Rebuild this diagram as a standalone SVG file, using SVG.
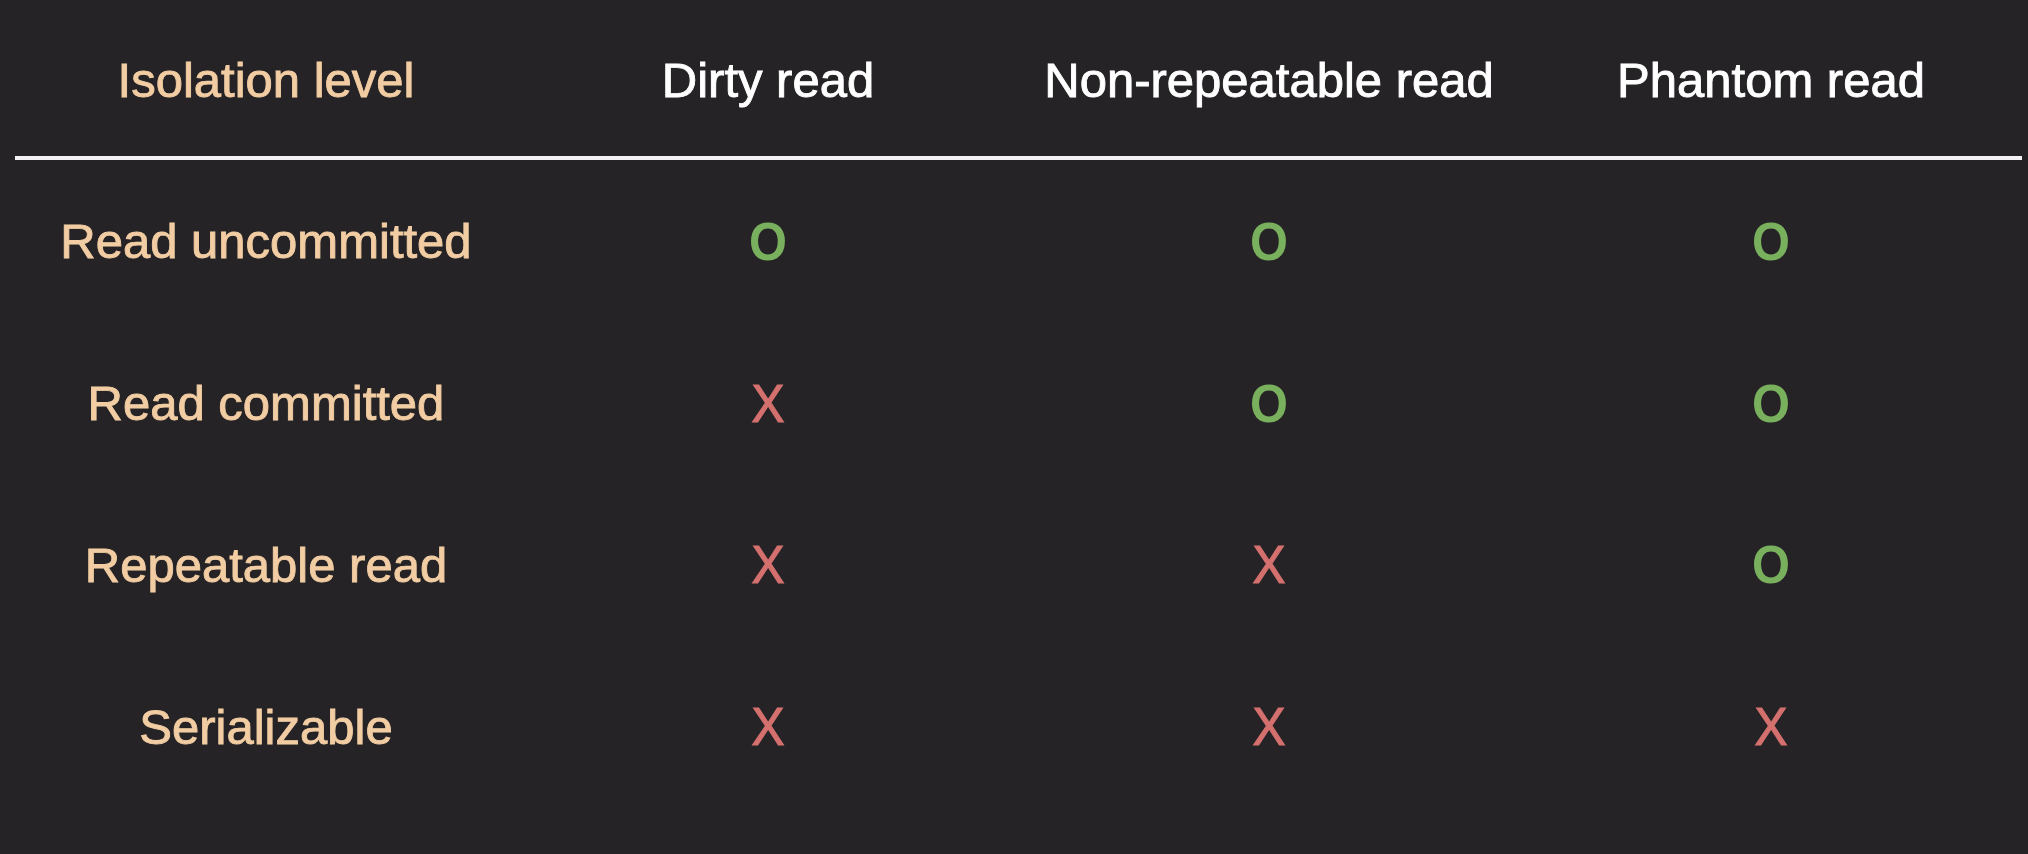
<svg xmlns="http://www.w3.org/2000/svg" width="2028" height="854" viewBox="0 0 2028 854">
<style>
  text { font-family: "Liberation Sans", Arial, sans-serif; text-anchor: middle; }
  .lbl { font-size: 49px; fill: #f2cda3; stroke: #f2cda3; stroke-width: 0.9px; }
  .hdr { font-size: 49px; fill: #ffffff; stroke: #ffffff; stroke-width: 0.9px; }
  .ok { font-size: 54px; font-weight: bold; fill: #79b05d; }
  .no { font-size: 54px; fill: #d4706e; stroke: #d4706e; stroke-width: 1.2px; }
</style>
<rect width="2028" height="854" fill="#252326"/>
<g id="header">
  <text class="lbl" x="266" y="97">Isolation level</text>
  <text class="hdr" x="768" y="97">Dirty read</text>
  <text class="hdr" x="1269" y="97">Non-repeatable read</text>
  <text class="hdr" x="1771" y="97">Phantom read</text>
</g>
<g id="connectors">
  <line x1="15" y1="158" x2="2022" y2="158" stroke="#f2f2f2" stroke-width="4"/>
</g>
<g id="row-read-uncommitted">
  <text class="lbl" x="266" y="258">Read uncommitted</text>
  <text class="ok" x="768" y="260" textLength="38" lengthAdjust="spacingAndGlyphs">O</text>
  <text class="ok" x="1269" y="260" textLength="38" lengthAdjust="spacingAndGlyphs">O</text>
  <text class="ok" x="1771" y="260" textLength="38" lengthAdjust="spacingAndGlyphs">O</text>
</g>
<g id="row-read-committed">
  <text class="lbl" x="266" y="420">Read committed</text>
  <text class="no" x="768" y="422" textLength="33" lengthAdjust="spacingAndGlyphs">X</text>
  <text class="ok" x="1269" y="422" textLength="38" lengthAdjust="spacingAndGlyphs">O</text>
  <text class="ok" x="1771" y="422" textLength="38" lengthAdjust="spacingAndGlyphs">O</text>
</g>
<g id="row-repeatable-read">
  <text class="lbl" x="266" y="582">Repeatable read</text>
  <text class="no" x="768" y="583" textLength="33" lengthAdjust="spacingAndGlyphs">X</text>
  <text class="no" x="1269" y="583" textLength="33" lengthAdjust="spacingAndGlyphs">X</text>
  <text class="ok" x="1771" y="583" textLength="38" lengthAdjust="spacingAndGlyphs">O</text>
</g>
<g id="row-serializable">
  <text class="lbl" x="266" y="744">Serializable</text>
  <text class="no" x="768" y="745" textLength="33" lengthAdjust="spacingAndGlyphs">X</text>
  <text class="no" x="1269" y="745" textLength="33" lengthAdjust="spacingAndGlyphs">X</text>
  <text class="no" x="1771" y="745" textLength="33" lengthAdjust="spacingAndGlyphs">X</text>
</g>
</svg>
